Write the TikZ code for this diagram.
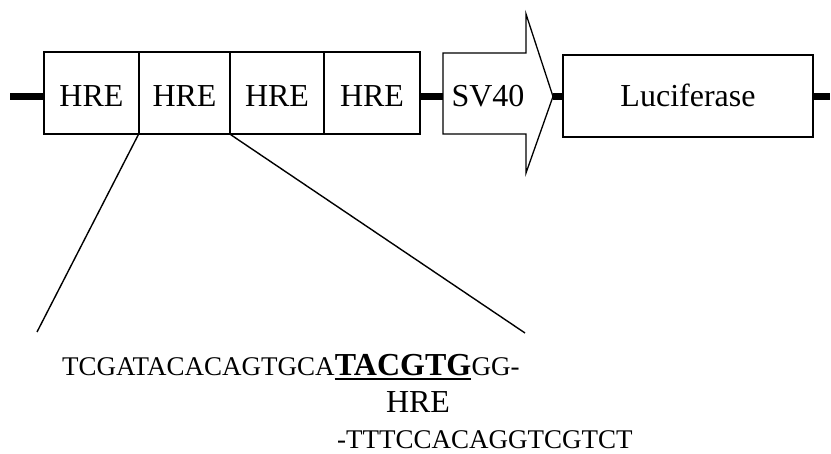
\documentclass[tikz,border=0pt]{standalone}
\usepackage{fontspec}
\setmainfont{Liberation Serif}
\begin{document}
\begin{tikzpicture}[x=1pt,y=-1pt,
  dna/.style={line width=7pt},
  box/.style={draw,line width=1.3pt,inner sep=0pt,font=\fontsize{32}{32}\selectfont,text depth=0pt},
  hrebox/.style={box,minimum width=95pt,minimum height=82pt,text height=28pt},
  seq/.style={inner sep=0pt,anchor=base west,font=\fontsize{27}{27}\selectfont},
  zoomline/.style={line width=1.4pt}]
\useasboundingbox (0,0) rectangle (831,454);
% backbone
\coordinate (L0) at (10,96.5);
\coordinate (R0) at (830,96.5);
\coordinate (svw) at (443,96.5);
\coordinate (svt) at (553,96.5);
\node[hrebox,minimum width=95pt] (h1) at (91.5,93) {HRE};
\node[hrebox,minimum width=91pt] (h2) at (184.5,93) {HRE};
\node[hrebox,minimum width=94pt] (h3) at (277,93) {HRE};
\node[hrebox,minimum width=96pt] (h4) at (372,93) {HRE};
\node[box,minimum width=250pt,minimum height=82pt,text height=22pt] (luc) at (688,96) {Luciferase};
\draw[dna] (L0) -- (h1.west |- L0);
\draw[dna] (h4.east |- L0) -- (svw);
\draw[dna] (svt) -- (luc.west |- L0);
\draw[dna] (luc.east |- L0) -- (R0);
% SV40 arrow
\draw[line width=1.3pt,line join=miter,fill=white] (443,53) -- (526,53) -- (526,14) -- (svt) -- (526,173) -- (526,134) -- (443,134) -- cycle;
\node[inner sep=0pt,anchor=base,font=\fontsize{32}{32}\selectfont] (sv) at (488,107) {SV40};
% zoom lines
\coordinate (zl) at (37,332);
\coordinate (zr) at (525,333);
\draw[zoomline] (h2.south west) -- (zl);
\draw[zoomline] (h2.south east) -- (zr);
% sequence
\node[seq] (s1) at (62,376) {TCGATACACAGTGCA};
\node[seq,font=\fontsize{32}{32}\selectfont\bfseries] (s2) at (s1.base east) {TACGTG};
\node[seq] (s3) at (s2.base east) {GG-};
\draw[line width=2.6pt] ([yshift=-3pt]s2.base west) -- ([yshift=-3pt]s2.base east);
\node[inner sep=0pt,anchor=base,font=\fontsize{32}{32}\selectfont] (hl) at (418,413) {HRE};
\node[seq] (s4) at (337,449) {-TTTCCACAGGTCGTCT};
\end{tikzpicture}
\end{document}
